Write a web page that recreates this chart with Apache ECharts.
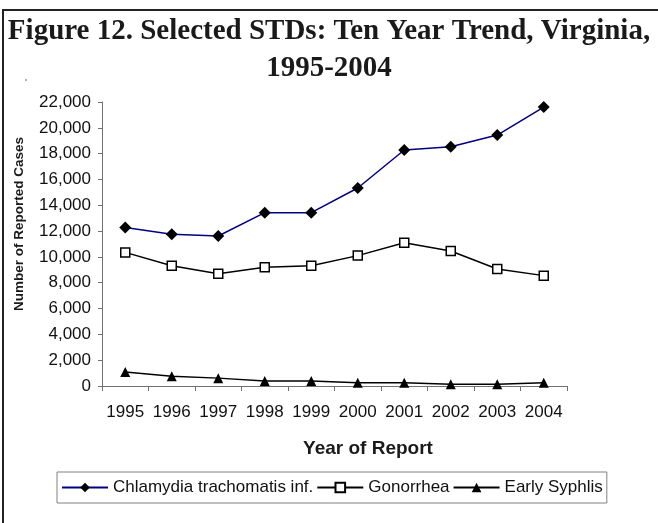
<!DOCTYPE html>
<html>
<head>
<meta charset="utf-8">
<script src="https://cdn.jsdelivr.net/npm/echarts@6/dist/echarts.min.js"></script>
<style>
  html, body { margin: 0; padding: 0; background: #ffffff; }
  #chart { width: 658px; height: 523px; }
</style>
</head>
<body>
<div id="chart"></div>
<script>
// Reported cases by year, Virginia
const years = ['1995', '1996', '1997', '1998', '1999', '2000', '2001', '2002', '2003', '2004'];
const chlamydia = [12270, 11750, 11620, 13430, 13430, 15340, 18280, 18540, 19440, 21610];
const gonorrhea = [10350, 9320, 8700, 9190, 9320, 10100, 11100, 10460, 9060, 8550];
const earlySyphilis = [1090, 760, 610, 380, 380, 250, 250, 130, 130, 250];
const seriesNames = ['Chlamydia trachomatis inf.', 'Gonorrhea', 'Early Syphlis'];

const sans = 'Arial, "Liberation Sans", sans-serif';
const serif = '"Liberation Serif", "Times New Roman", serif';

const chart = echarts.init(document.getElementById('chart'), null, { renderer: 'canvas' });

function withCommas(v) {
  return String(v).replace(/\B(?=(\d{3})+(?!\d))/g, ',');
}

chart.setOption({
  backgroundColor: '#ffffff',
  animation: false,
  title: {
    text: 'Figure 12. Selected STDs: Ten Year Trend, Virginia,\n1995-2004',
    left: 'center',
    top: 13,
    padding: 0,
    textStyle: {
      fontFamily: serif,
      fontWeight: 'bold',
      fontSize: 29,
      lineHeight: 37,
      color: '#1a1a1a'
    }
  },
  graphic: [
    {
      type: 'rect',
      shape: { x: 3, y: 10, width: 700, height: 600 },
      style: { fill: null, stroke: '#222222', lineWidth: 2 },
      silent: true
    },
    {
      type: 'circle',
      shape: { cx: 26, cy: 80, r: 0.8 },
      style: { fill: '#555555' },
      silent: true
    },
    {
      type: 'text',
      x: 19.5,
      y: 224,
      rotation: Math.PI / 2,
      style: {
        text: 'Number of Reported Cases',
        font: 'bold 13.5px ' + sans,
        fill: '#1a1a1a',
        align: 'center',
        verticalAlign: 'middle'
      }
    },
    {
      type: 'text',
      x: 368,
      y: 449,
      style: {
        text: 'Year of Report',
        font: 'bold 19px ' + sans,
        fill: '#1a1a1a',
        align: 'center',
        verticalAlign: 'middle'
      }
    }
  ],
  legend: {
    data: seriesNames,
    left: 57,
    top: 472,
    orient: 'horizontal',
    padding: [7, 4, 7, 4],
    itemGap: 3,
    itemWidth: 46,
    itemHeight: 12,
    borderColor: '#808080',
    borderWidth: 1,
    backgroundColor: '#ffffff',
    textStyle: { fontFamily: sans, fontSize: 17, color: '#111111' }
  },
  grid: {
    left: 102,
    top: 102,
    width: 465,
    height: 284,
    containLabel: false
  },
  xAxis: {
    type: 'category',
    data: years,
    boundaryGap: true,
    axisLine: { lineStyle: { color: '#707070', width: 1 } },
    axisTick: { show: true, length: 5, inside: false, lineStyle: { color: '#707070' } },
    axisLabel: { interval: 0, margin: 18, fontFamily: sans, fontSize: 17, color: '#111111' },
    splitLine: { show: false }
  },
  yAxis: {
    type: 'value',
    min: 0,
    max: 22000,
    interval: 2000,
    axisLine: { show: true, lineStyle: { color: '#707070', width: 1 } },
    axisTick: { show: true, length: 4, inside: false, lineStyle: { color: '#707070' } },
    axisLabel: { margin: 11, fontFamily: sans, fontSize: 17, color: '#111111', formatter: withCommas },
    splitLine: { show: false }
  },
  series: [
    {
      name: seriesNames[0],
      type: 'line',
      data: chlamydia,
      symbol: 'diamond',
      symbolSize: 12,
      lineStyle: { color: '#000080', width: 1.5 },
      itemStyle: { color: '#000000', borderWidth: 0 },
      z: 3
    },
    {
      name: seriesNames[1],
      type: 'line',
      data: gonorrhea,
      symbol: 'rect',
      symbolSize: 9,
      lineStyle: { color: '#000000', width: 1.5 },
      itemStyle: { color: '#ffffff', borderColor: '#000000', borderWidth: 1.5 },
      z: 3
    },
    {
      name: seriesNames[2],
      type: 'line',
      data: earlySyphilis,
      symbol: 'triangle',
      symbolSize: 10,
      lineStyle: { color: '#000000', width: 1.5 },
      itemStyle: { color: '#000000', borderWidth: 0 },
      z: 3
    }
  ]
});
</script>
</body>
</html>
